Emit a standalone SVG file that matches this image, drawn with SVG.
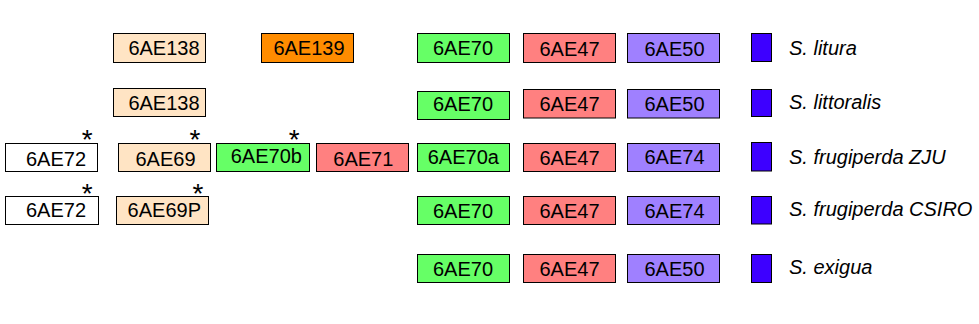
<svg xmlns="http://www.w3.org/2000/svg" width="979" height="324" viewBox="0 0 979 324">
<style>
.box{stroke:#000;stroke-width:1}
.peach{fill:#FFE4C4}
.orange{fill:#FF8C00}
.white{fill:#FFFFFF}
.green{fill:#66FF66}
.red{fill:#FF8080}
.purple{fill:#9F80FF}
.blue{fill:#3D00FF}
text{font-family:"Liberation Sans",Arial,sans-serif;font-size:20px;fill:#000}
.lbl{text-anchor:middle}
.sp{font-style:italic}
.star{font-size:28px;text-anchor:middle}
</style>
<g id="row1">
<g id="r1-6AE138"><rect class="box peach" x="113.5" y="33.5" width="92" height="29"/><text class="lbl" x="164" y="55">6AE138</text></g>
<g id="r1-6AE139"><rect class="box orange" x="261.5" y="33.5" width="92" height="29"/><text class="lbl" x="309" y="55">6AE139</text></g>
<g id="r1-6AE70"><rect class="box green" x="417.5" y="33.5" width="92" height="29"/><text class="lbl" x="463" y="54.5">6AE70</text></g>
<g id="r1-6AE47"><rect class="box red" x="523.5" y="33.5" width="92" height="29"/><text class="lbl" x="569.5" y="55.5">6AE47</text></g>
<g id="r1-6AE50"><rect class="box purple" x="627.5" y="33.5" width="92" height="29"/><text class="lbl" x="674.5" y="55.5">6AE50</text></g>
<g id="r1-species"><rect class="box blue" x="751.5" y="33.5" width="20" height="28"/><text class="sp" x="789" y="54.5">S. litura</text></g>
</g>
<g id="row2">
<g id="r2-6AE138"><rect class="box peach" x="113.5" y="88.5" width="92" height="28"/><text class="lbl" x="164" y="110">6AE138</text></g>
<g id="r2-6AE70"><rect class="box green" x="417.5" y="91.5" width="92" height="28"/><text class="lbl" x="463" y="110.5">6AE70</text></g>
<g id="r2-6AE47"><rect class="box red" x="523.5" y="89.5" width="92" height="28.5"/><text class="lbl" x="569.5" y="110.7">6AE47</text></g>
<g id="r2-6AE50"><rect class="box purple" x="627.5" y="89.5" width="92" height="28.5"/><text class="lbl" x="674.5" y="110.7">6AE50</text></g>
<g id="r2-species"><rect class="box blue" x="751.5" y="89.5" width="20" height="27"/><text class="sp" x="789" y="108.5">S. littoralis</text></g>
</g>
<g id="row3">
<g id="r3-6AE72"><rect class="box white" x="5.5" y="143.5" width="92" height="28"/><text class="lbl" x="56" y="165.5">6AE72</text><text class="star" x="87.3" y="148.5">*</text></g>
<g id="r3-6AE69"><rect class="box peach" x="118.5" y="143.5" width="92" height="28"/><text class="lbl" x="165.5" y="165.5">6AE69</text><text class="star" x="195" y="148.5">*</text></g>
<g id="r3-6AE70b"><rect class="box green" x="216.5" y="143.5" width="93" height="28"/><text class="lbl" x="266.3" y="163.3">6AE70b</text><text class="star" x="294.3" y="148.5">*</text></g>
<g id="r3-6AE71"><rect class="box red" x="316.5" y="143.5" width="92" height="28"/><text class="lbl" x="363.3" y="165.7">6AE71</text></g>
<g id="r3-6AE70a"><rect class="box green" x="417.5" y="143.5" width="92" height="28"/><text class="lbl" x="463.3" y="164">6AE70a</text></g>
<g id="r3-6AE47"><rect class="box red" x="523.5" y="143.5" width="92" height="28"/><text class="lbl" x="569.5" y="165">6AE47</text></g>
<g id="r3-6AE74"><rect class="box purple" x="627.5" y="143.5" width="92" height="28"/><text class="lbl" x="674.5" y="163.5">6AE74</text></g>
<g id="r3-species"><rect class="box blue" x="751.5" y="142.5" width="20" height="28.5"/><text class="sp" x="789" y="163.5">S. frugiperda ZJU</text></g>
</g>
<g id="row4">
<g id="r4-6AE72"><rect class="box white" x="5.5" y="196.5" width="93" height="28"/><text class="lbl" x="56" y="217">6AE72</text><text class="star" x="87.3" y="203">*</text></g>
<g id="r4-6AE69P"><rect class="box peach" x="116.5" y="196.5" width="92" height="28"/><text class="lbl" x="164.3" y="217">6AE69P</text><text class="star" x="198" y="203">*</text></g>
<g id="r4-6AE70"><rect class="box green" x="417.5" y="196.5" width="92" height="28"/><text class="lbl" x="463" y="217.5">6AE70</text></g>
<g id="r4-6AE47"><rect class="box red" x="523.5" y="196.5" width="92" height="28"/><text class="lbl" x="569.5" y="218">6AE47</text></g>
<g id="r4-6AE74"><rect class="box purple" x="627.5" y="196.5" width="92" height="28"/><text class="lbl" x="674.5" y="217.5">6AE74</text></g>
<g id="r4-species"><rect class="box blue" x="751.5" y="196.5" width="20" height="27.5"/><text class="sp" x="789" y="215.7">S. frugiperda CSIRO</text></g>
</g>
<g id="row5">
<g id="r5-6AE70"><rect class="box green" x="417.5" y="254.5" width="92" height="28"/><text class="lbl" x="463" y="275.5">6AE70</text></g>
<g id="r5-6AE47"><rect class="box red" x="523.5" y="254.5" width="92" height="28"/><text class="lbl" x="569.5" y="276">6AE47</text></g>
<g id="r5-6AE50"><rect class="box purple" x="627.5" y="254.5" width="92" height="28"/><text class="lbl" x="674.5" y="276">6AE50</text></g>
<g id="r5-species"><rect class="box blue" x="751.5" y="254.5" width="20" height="28"/><text class="sp" x="789" y="274">S. exigua</text></g>
</g>
<g id="connectors"></g>
</svg>
